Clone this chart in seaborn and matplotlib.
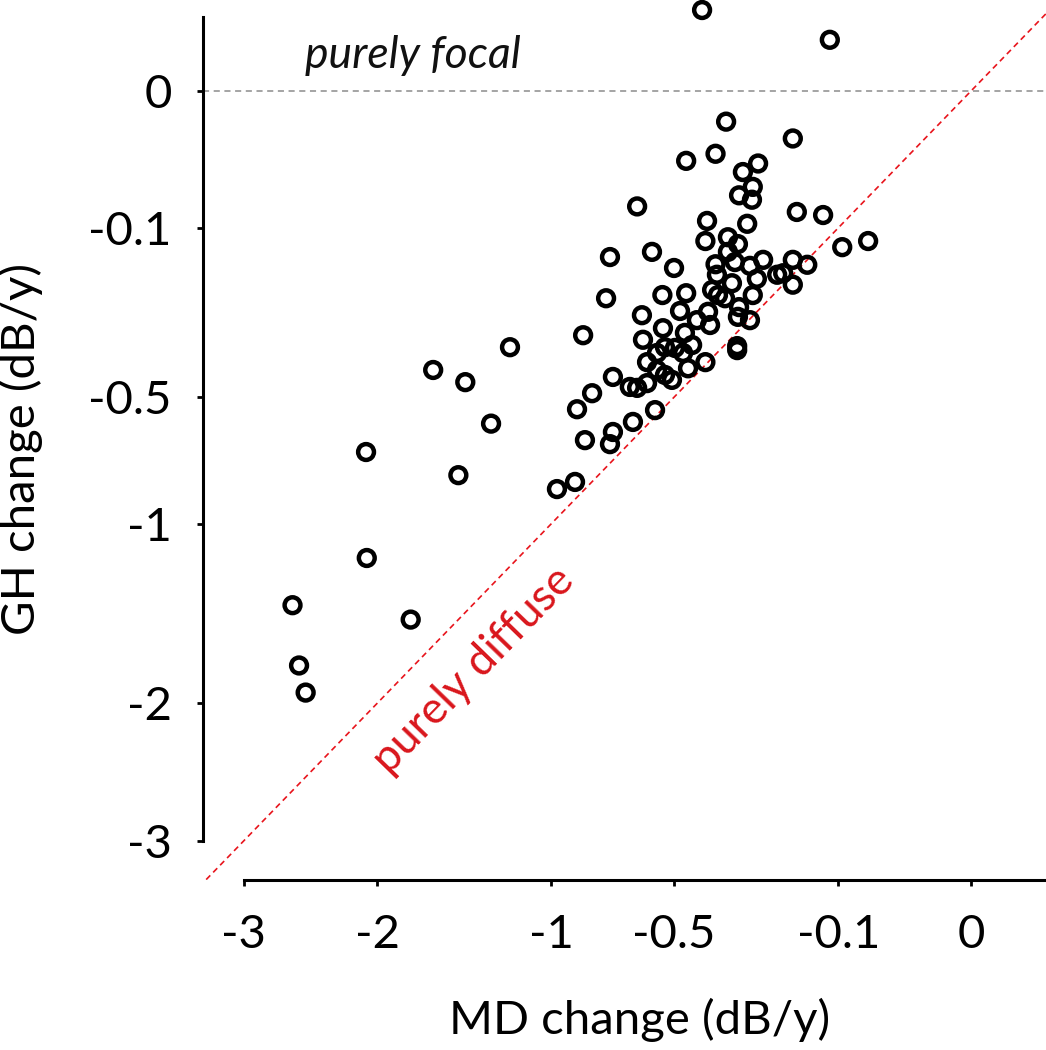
import numpy as np
import matplotlib
matplotlib.use("Agg")
import matplotlib.pyplot as plt
import seaborn as sns
import pandas as pd

# MD change vs GH change per eye (dB/year)
md_change = [
    -0.41, -0.113, -0.34, -0.18, -0.46, -0.37, -0.257, -0.295, -0.27, -0.305,
    -0.272, -0.632, -0.172, -0.124, -0.395, -0.284, -0.40, -0.577, -0.335, -0.308,
    -0.335, -0.245, -0.18, -0.094, -0.060, -0.152, -0.739, -0.50, -0.37, -0.316,
    -0.277, -0.366, -0.26, -0.213, -0.20, -0.18, -0.324, -0.38, -0.363, -0.343,
    -0.755, -0.54, -0.46, -0.48, -0.614, -0.392, -0.305, -0.277, -0.308, -0.426,
    -0.386, -0.538, -0.464, -0.61, -0.531, -0.497, -0.47, -0.559, -0.31, -0.31,
    -0.40, -0.454, -0.559, -0.531, -0.507, -0.595, -0.727, -0.66, -0.632, -0.595,
    -0.814, -0.88, -0.566, -0.648, -0.727, -0.739, -0.845, -0.889, -0.972, -0.853,
    -1.205, -1.64, -1.45, -1.306, -2.075, -1.49, -2.07, -1.78, -2.61, -2.56,
    -2.51, -0.27, -0.441,
]
gh_change = [
    0.035, 0.014, -0.005, -0.012, -0.026, -0.021, -0.028, -0.035, -0.049, -0.058,
    -0.063, -0.071, -0.078, -0.082, -0.090, -0.094, -0.12, -0.138, -0.114, -0.125,
    -0.138, -0.152, -0.152, -0.13, -0.12, -0.161, -0.147, -0.167, -0.16, -0.156,
    -0.163, -0.18, -0.188, -0.18, -0.177, -0.20, -0.197, -0.211, -0.222, -0.229,
    -0.229, -0.222, -0.218, -0.258, -0.268, -0.26, -0.249, -0.28, -0.272, -0.28,
    -0.292, -0.30, -0.312, -0.33, -0.35, -0.352, -0.366, -0.366, -0.347, -0.358,
    -0.392, -0.41, -0.415, -0.43, -0.445, -0.392, -0.436, -0.467, -0.47, -0.455,
    -0.487, -0.54, -0.543, -0.584, -0.62, -0.665, -0.65, -0.815, -0.845, -0.318,
    -0.35, -0.415, -0.452, -0.59, -0.695, -0.787, -1.163, -1.49, -1.41, -1.76,
    -1.93, -0.222, -0.344,
]

tick_values = [-3, -2, -1, -0.5, -0.1, 0]
tick_labels = ["-3", "-2", "-1", "-0.5", "-0.1", "0"]


def fwd(v):
    v = np.asarray(v, dtype=float)
    return np.sign(v) * np.sqrt(np.abs(v))


def inv(u):
    u = np.asarray(u, dtype=float)
    return np.sign(u) * u ** 2


sns.set_style("ticks")
plt.rcParams["font.family"] = ["Lato", "DejaVu Sans"]
plt.rcParams["text.color"] = "black"
plt.rcParams["axes.labelcolor"] = "black"
plt.rcParams["xtick.color"] = "black"
plt.rcParams["ytick.color"] = "black"
plt.rcParams["axes.edgecolor"] = "black"

df = pd.DataFrame({"md": md_change, "gh": gh_change})

fig = plt.figure(figsize=(10.46, 10.5), dpi=100)
ax = fig.add_axes([0.1941, 0.1619, 0.8059, 0.8381])
ax.set_xscale("function", functions=(fwd, inv))
ax.set_yscale("function", functions=(fwd, inv))

# reference lines: y = 0 (purely focal) and y = x (purely diffuse)
ax.axhline(0, color="#8c8c8c", lw=1.1, ls=(0, (4, 3)), zorder=1)
ax.plot([-3.5, 0.1], [-3.5, 0.1], color="#e8141c", lw=1.2, ls=(0, (3.5, 2.5)), zorder=1)

sns.scatterplot(data=df, x="md", y="gh", ax=ax, marker="o", s=130,
                facecolor="none", edgecolor="black", linewidth=3.2,
                clip_on=False, zorder=3, legend=False)

ax.set_xlim(-3.344, 0.0319)
ax.set_ylim(-3.320, 0.0442)

ax.set_xticks(tick_values)
ax.set_xticklabels(tick_labels)
ax.set_yticks(tick_values)
ax.set_yticklabels(tick_labels)
ax.minorticks_off()

for side in ["top", "right"]:
    ax.spines[side].set_visible(False)
ax.spines["left"].set_bounds(-3, 0.0292)
ax.spines["bottom"].set_bounds(-3, 0.0319)
for side in ["left", "bottom"]:
    ax.spines[side].set_linewidth(2.2)
ax.tick_params(axis="both", length=4.5, width=2.0, labelsize=34, color="black",
               labelcolor="black")
ax.tick_params(axis="x", pad=20)
ax.tick_params(axis="y", pad=18)

ax.set_xlabel("MD change (dB/y)", fontsize=34)
ax.set_ylabel("GH change (dB/y)", fontsize=34)
ax.xaxis.set_label_coords(0.518, -0.134)
ax.yaxis.set_label_coords(-0.19, 0.49)

ax.text(0.121, 0.9375, "purely focal", transform=ax.transAxes, fontsize=32,
        style="italic", color="#111111", ha="left", va="center")
ax.text(0.3215, 0.2386, "purely diffuse", transform=ax.transAxes, fontsize=32,
        color="#d9161c", rotation=45.9, rotation_mode="anchor",
        ha="center", va="center")

fig.savefig("out.png", dpi=100)
